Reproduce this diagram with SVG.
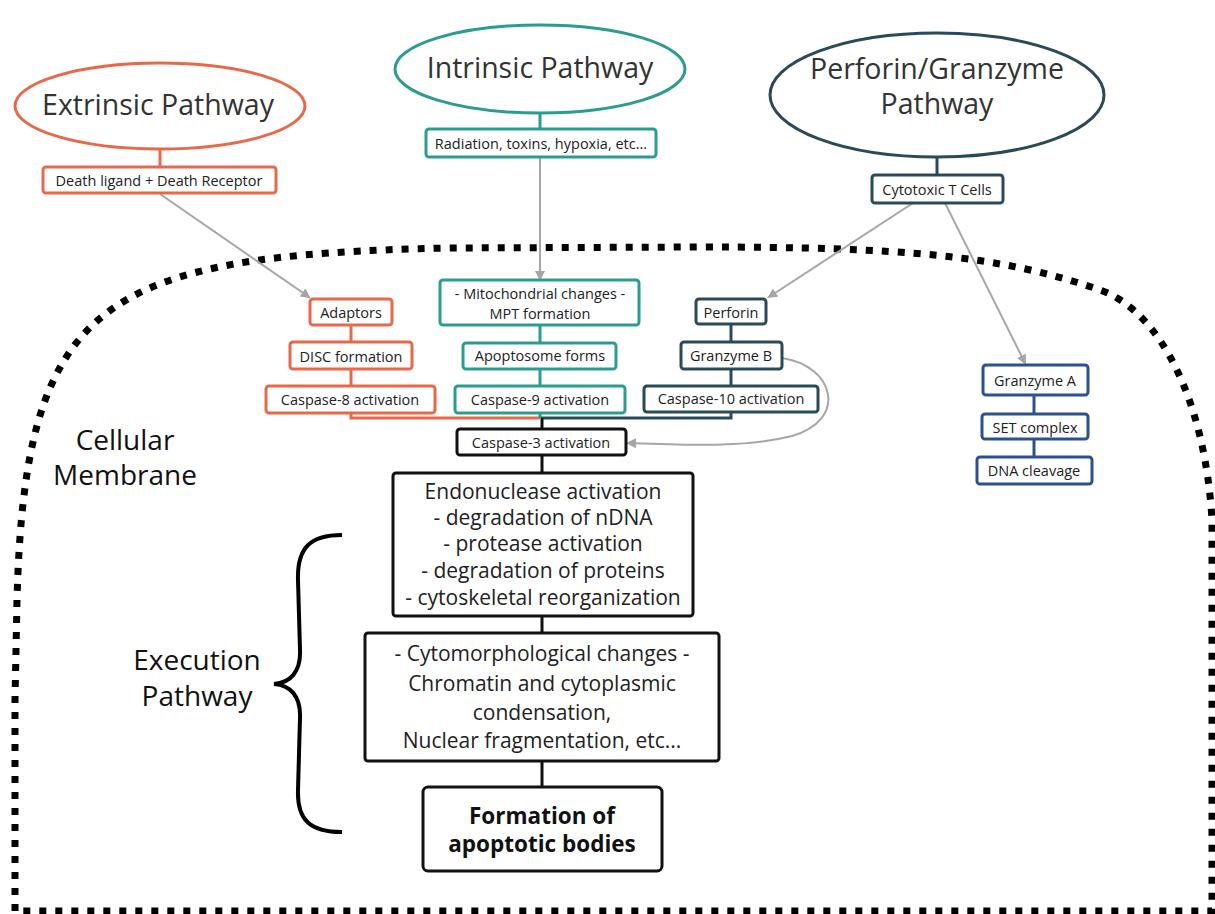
<svg xmlns="http://www.w3.org/2000/svg" width="1215" height="914" viewBox="0 0 1215 914">
<defs>
<marker id="ah" markerWidth="10" markerHeight="10" refX="8" refY="5" orient="auto" markerUnits="userSpaceOnUse">
<path d="M0,0 L10,5 L0,10 Z" fill="#a6a6a6"/>
</marker>
<style>
text{font-family:"Open Sans","Liberation Sans",sans-serif;text-anchor:middle;dominant-baseline:central;fill:#222}
.big{font-size:28.5px;fill:#333}
.lbl{font-size:28px;fill:#111}
.sm{font-size:14.5px}
.md{font-size:21px}
.bd{font-size:22.5px;font-weight:bold;fill:#111}
.box{fill:#fff;stroke-width:3}
.o{stroke:#e8694a}
.t{stroke:#2a9d8f}
.s{stroke:#2b4a58}
.b{stroke:#2c5190}
.k{stroke:#111}
.arr{fill:none;stroke:#a6a6a6;stroke-width:2;marker-end:url(#ah)}
.ln{fill:none;stroke-width:3}
</style>
</defs>
<rect width="1215" height="914" fill="#fff"/>
<g id="membrane">
<path d="M15,911 L15,700 L17,600 C25,300 100,255 450,248 L700,247 C900,247 1000,255 1100,290 C1160,311 1205,400 1212,520 L1212,911 Z" fill="none" stroke="#000" stroke-width="7" stroke-dasharray="7 9"/>
<text class="lbl" x="125" y="439">Cellular</text>
<text class="lbl" x="125" y="474">Membrane</text>
</g>
<g id="connectors">
<line class="ln o" x1="160" y1="149" x2="160" y2="167"/>
<line class="ln t" x1="540" y1="113" x2="540" y2="129"/>
<line class="ln s" x1="937" y1="157" x2="937" y2="175"/>
<path class="arr" d="M160,194 L309,297"/>
<path class="arr" d="M540,157 L540,279"/>
<path class="arr" d="M913,203 L769,297"/>
<path class="arr" d="M945,203 L1025,363"/>
<line class="ln o" x1="351" y1="325" x2="351" y2="342"/>
<line class="ln o" x1="351" y1="369" x2="351" y2="386"/>
<polyline class="ln o" points="351,413 351,418 540,418"/>
<line class="ln t" x1="540" y1="325" x2="540" y2="343"/>
<line class="ln t" x1="540" y1="369" x2="540" y2="386"/>
<line class="ln t" x1="540" y1="413" x2="540" y2="418"/>
<line class="ln s" x1="731" y1="324" x2="731" y2="342"/>
<line class="ln s" x1="731" y1="369" x2="731" y2="386"/>
<polyline class="ln s" points="731,412 731,418 541,418"/>
<line class="ln k" x1="542" y1="418" x2="542" y2="429"/>
<path class="arr" d="M782,358 C835,366 848,420 792,436 C745,448 690,445 628,443"/>
<line class="ln b" x1="1034" y1="395" x2="1034" y2="414"/>
<line class="ln b" x1="1034" y1="439" x2="1034" y2="457"/>
<line class="ln k" x1="542" y1="455" x2="542" y2="473"/>
<line class="ln k" x1="542" y1="616" x2="542" y2="633"/>
<line class="ln k" x1="542" y1="761" x2="542" y2="787"/>
</g>
<g id="extrinsic">
<ellipse cx="160" cy="106" rx="145" ry="43" fill="#fff" stroke="#e8694a" stroke-width="3"/>
<text class="big" x="158" y="104">Extrinsic Pathway</text>
</g>
<g id="death-ligand"><rect class="box o" x="43" y="167" width="233" height="26" rx="3"/><text class="sm" x="159" y="180">Death ligand + Death Receptor</text></g>
<g id="intrinsic">
<ellipse cx="540" cy="69" rx="145" ry="44" fill="#fff" stroke="#2a9d8f" stroke-width="3"/>
<text class="big" x="540" y="67">Intrinsic Pathway</text>
</g>
<g id="radiation"><rect class="box t" x="426" y="129" width="230" height="28" rx="3"/><text class="sm" x="541" y="143">Radiation, toxins, hypoxia, etc...</text></g>
<g id="perforin-granzyme">
<ellipse cx="937" cy="95" rx="167" ry="62" fill="#fff" stroke="#2b4a58" stroke-width="3"/>
<text class="big" x="937" y="68">Perforin/Granzyme</text>
<text class="big" x="937" y="103">Pathway</text>
</g>
<g id="cytotoxic"><rect class="box s" x="872" y="175" width="131" height="28" rx="3"/><text class="sm" x="937" y="189">Cytotoxic T Cells</text></g>
<g id="adaptors"><rect class="box o" x="310" y="299" width="82" height="26" rx="3"/><text class="sm" x="351" y="312">Adaptors</text></g>
<g id="disc"><rect class="box o" x="290" y="342" width="122" height="27" rx="3"/><text class="sm" x="351" y="356">DISC formation</text></g>
<g id="caspase8"><rect class="box o" x="266" y="386" width="169" height="27" rx="3"/><text class="sm" x="350" y="399">Caspase-8 activation</text></g>
<g id="mito"><rect class="box t" x="440" y="280" width="199" height="45" rx="3"/><text class="sm" x="540" y="293">- Mitochondrial changes -</text><text class="sm" x="540" y="313">MPT formation</text></g>
<g id="apoptosome"><rect class="box t" x="463" y="343" width="153" height="26" rx="3"/><text class="sm" x="540" y="355">Apoptosome forms</text></g>
<g id="caspase9"><rect class="box t" x="455" y="386" width="170" height="27" rx="3"/><text class="sm" x="540" y="399">Caspase-9 activation</text></g>
<g id="perforin"><rect class="box s" x="696" y="299" width="70" height="25" rx="3"/><text class="sm" x="731" y="312">Perforin</text></g>
<g id="granzymeB"><rect class="box s" x="681" y="342" width="101" height="27" rx="3"/><text class="sm" x="731" y="355">Granzyme B</text></g>
<g id="caspase10"><rect class="box s" x="644" y="386" width="174" height="26" rx="3"/><text class="sm" x="731" y="398">Caspase-10 activation</text></g>
<g id="caspase3"><rect class="box k" x="457" y="429" width="169" height="26" rx="3"/><text class="sm" x="541" y="442">Caspase-3 activation</text></g>
<g id="granzymeA"><rect class="box b" x="983" y="365" width="105" height="30" rx="3"/><text class="sm" x="1035" y="380">Granzyme A</text></g>
<g id="set"><rect class="box b" x="982" y="414" width="106" height="25" rx="3"/><text class="sm" x="1035" y="427">SET complex</text></g>
<g id="dna"><rect class="box b" x="977" y="457" width="115" height="27" rx="3"/><text class="sm" x="1034" y="470">DNA cleavage</text></g>
<g id="endonuclease"><rect class="box k" x="393" y="473" width="300" height="143" rx="3"/>
<text class="md" x="543" y="491">Endonuclease activation</text>
<text class="md" x="543" y="517">- degradation of nDNA</text>
<text class="md" x="543" y="543">- protease activation</text>
<text class="md" x="543" y="570">- degradation of proteins</text>
<text class="md" x="543" y="597">- cytoskeletal reorganization</text>
</g>
<g id="cytomorph"><rect class="box k" x="365" y="633" width="354" height="128" rx="3"/>
<text class="md" x="542" y="653">- Cytomorphological changes -</text>
<text class="md" x="542" y="683">Chromatin and cytoplasmic</text>
<text class="md" x="542" y="712">condensation,</text>
<text class="md" x="542" y="740">Nuclear fragmentation, etc...</text>
</g>
<g id="formation"><rect class="box k" x="423" y="787" width="239" height="84" rx="5"/>
<text class="bd" x="542" y="815">Formation of</text>
<text class="bd" x="542" y="843">apoptotic bodies</text>
</g>
<g id="execution">
<path d="M342,535 C310,535 297,548 298,580 L300,650 C301,672 290,683 274,684 C290,685 301,696 300,718 L298,790 C297,820 310,832 342,832" fill="none" stroke="#000" stroke-width="4"/>
<text class="lbl" x="197" y="659">Execution</text>
<text class="lbl" x="197" y="695">Pathway</text>
</g>
</svg>
